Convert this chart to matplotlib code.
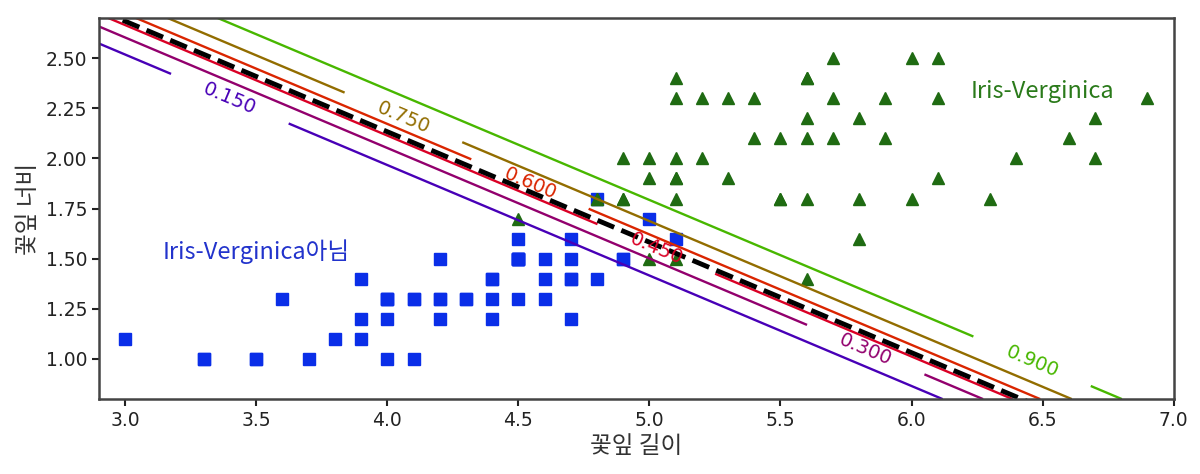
import matplotlib
matplotlib.use("Agg")
import matplotlib.pyplot as plt
import numpy as np

plt.rcParams['font.family'] = ['DejaVu Sans', 'Noto Sans CJK KR']

# 꽃잎 길이 / 너비 (Iris versicolor = 아님, virginica)
not_virginica_len = [4.7, 4.5, 4.9, 4.0, 4.6, 4.5, 4.7, 3.3, 4.6, 3.9,
                     3.5, 4.2, 4.0, 4.7, 3.6, 4.4, 4.5, 4.1, 4.5, 3.9,
                     4.8, 4.0, 4.9, 4.7, 4.3, 4.4, 4.8, 5.0, 4.5, 3.5,
                     3.8, 3.7, 3.9, 5.1, 4.5, 4.5, 4.7, 4.4, 4.1, 4.0,
                     4.4, 4.6, 4.0, 3.3, 4.2, 4.2, 4.2, 4.3, 3.0, 4.1]
not_virginica_wid = [1.4, 1.5, 1.5, 1.3, 1.5, 1.3, 1.6, 1.0, 1.3, 1.4,
                     1.0, 1.5, 1.0, 1.4, 1.3, 1.4, 1.5, 1.0, 1.5, 1.1,
                     1.8, 1.3, 1.5, 1.2, 1.3, 1.4, 1.4, 1.7, 1.5, 1.0,
                     1.1, 1.0, 1.2, 1.6, 1.5, 1.6, 1.5, 1.3, 1.3, 1.3,
                     1.2, 1.4, 1.2, 1.0, 1.3, 1.2, 1.3, 1.3, 1.1, 1.3]
virginica_len = [6.0, 5.1, 5.9, 5.6, 5.8, 6.6, 4.5, 6.3, 5.8, 6.1,
                 5.1, 5.3, 5.5, 5.0, 5.1, 5.3, 5.5, 6.7, 6.9, 5.0,
                 5.7, 4.9, 6.7, 4.9, 5.7, 6.0, 4.8, 4.9, 5.6, 5.8,
                 6.1, 6.4, 5.6, 5.1, 5.6, 6.1, 5.6, 5.5, 4.8, 5.4,
                 5.6, 5.1, 5.1, 5.9, 5.7, 5.2, 5.0, 5.2, 5.4, 5.1]
virginica_wid = [2.5, 1.9, 2.1, 1.8, 2.2, 2.1, 1.7, 1.8, 1.8, 2.5,
                 2.0, 1.9, 2.1, 2.0, 2.4, 2.3, 1.8, 2.2, 2.3, 1.5,
                 2.3, 2.0, 2.0, 1.8, 2.1, 1.8, 1.8, 1.8, 2.1, 1.6,
                 1.9, 2.0, 2.2, 1.5, 1.4, 2.3, 2.4, 1.8, 1.8, 2.1,
                 2.4, 2.3, 1.9, 2.3, 2.5, 2.3, 1.9, 2.0, 2.3, 1.8]

# 로지스틱 회귀 계수
coef = [5.75, 10.44]
intercept = -45.27
levels = [0.15, 0.30, 0.45, 0.60, 0.75, 0.90]
label_pos = [(3.40, 2.30), (5.82, 1.03), (5.03, 1.56),
             (4.55, 1.89), (4.06, 2.20), (6.47, 1.02)]

x0, x1 = np.meshgrid(np.linspace(2.9, 7, 500), np.linspace(0.8, 2.7, 200))
zz = 1 / (1 + np.exp(-(coef[0] * x0 + coef[1] * x1 + intercept)))

fig = plt.figure(figsize=(12, 4.74), dpi=100)
ax = fig.add_axes([0.0825, 0.158, 0.8955, 0.804])

ax.plot(not_virginica_len, not_virginica_wid, "s", color="#0a2ee8", markersize=8.5)
ax.plot(virginica_len, virginica_wid, "^", color="#1f6b12", markersize=8.5)

contour = ax.contour(x0, x1, zz, levels=levels, cmap=plt.cm.brg,
                     vmin=0, vmax=1.05, linewidths=1.7)
ax.clabel(contour, inline=True, inline_spacing=36, fontsize=14,
          manual=label_pos, fmt="%.3f")

left_right = np.array([2.9, 7])
boundary = -(coef[0] * left_right + intercept) / coef[1]
ax.plot(left_right, boundary, "k--", linewidth=3.5)

ax.text(3.5, 1.5, "Iris-Verginica아님", fontsize=17, color="#2233cc", ha="center",
        family=['Noto Sans CJK KR', 'DejaVu Sans'])
ax.text(6.5, 2.3, "Iris-Verginica", fontsize=17, color="#2a7a1a", ha="center",
        family=['Noto Sans CJK KR', 'DejaVu Sans'])

ax.set_xlabel("꽃잎 길이", fontsize=17, family=['Noto Sans CJK KR'], color="#333333")
ax.set_ylabel("꽃잎 너비", fontsize=17, family=['Noto Sans CJK KR'], color="#333333")
ax.axis([2.9, 7, 0.8, 2.7])
ax.set_yticks([1.0, 1.25, 1.5, 1.75, 2.0, 2.25, 2.5])
ax.yaxis.set_major_formatter(matplotlib.ticker.FormatStrFormatter("%.2f"))
ax.tick_params(labelsize=13.5, colors="#222222", length=5, width=1.5)
for s in ax.spines.values():
    s.set_linewidth(1.8)
    s.set_color("#444444")

fig.savefig("out.png", dpi=100)
